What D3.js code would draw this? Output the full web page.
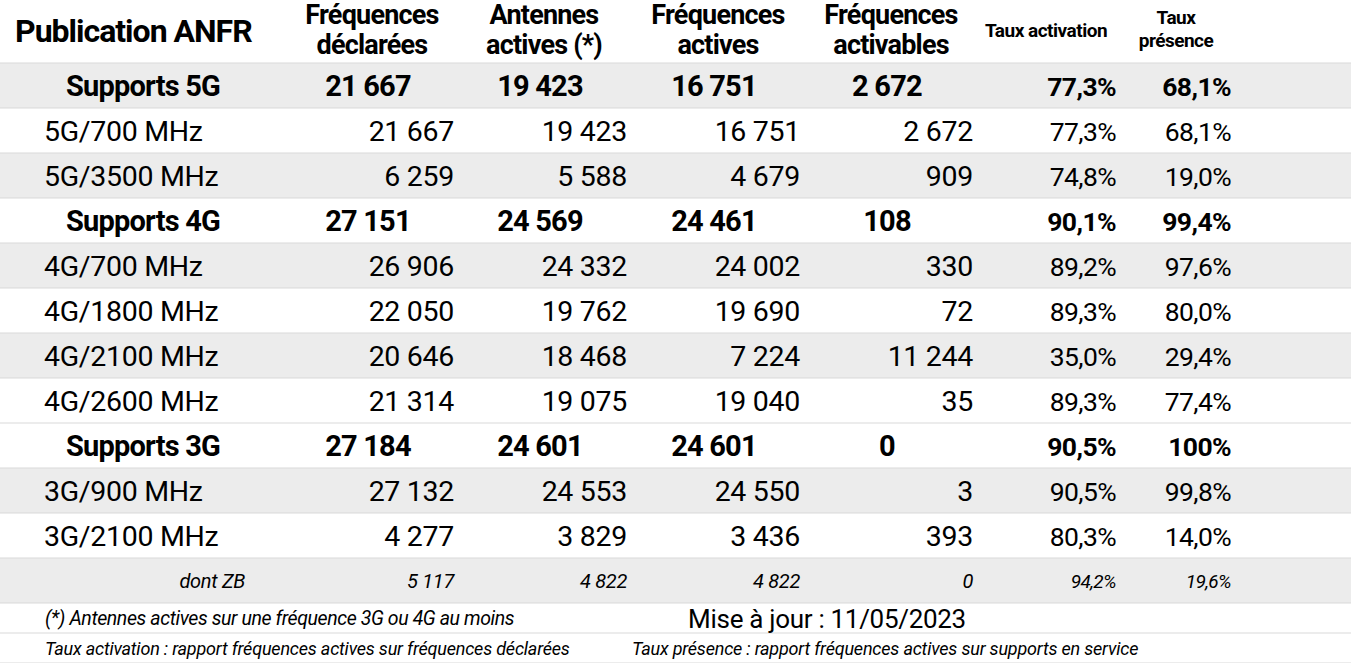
<!DOCTYPE html>
<html><head><meta charset="utf-8">
<script src="https://cdn.jsdelivr.net/npm/d3@7"></script>
<style>body{margin:0;background:#fff}text{font-family:Roboto,sans-serif}</style>
</head><body><div id="table"></div>
<script>
const rowLabels = ["Supports 5G","5G/700 MHz","5G/3500 MHz","Supports 4G","4G/700 MHz","4G/1800 MHz","4G/2100 MHz","4G/2600 MHz","Supports 3G","3G/900 MHz","3G/2100 MHz","dont ZB"]
const rowKind = ["bold","sub","sub","bold","sub","sub","sub","sub","bold","sub","sub","small"]
const rowShade = [1,0,1,0,1,0,1,0,0,1,0,1]
const declared = ["21 667","21 667","6 259","27 151","26 906","22 050","20 646","21 314","27 184","27 132","4 277","5 117"]
const antennas = ["19 423","19 423","5 588","24 569","24 332","19 762","18 468","19 075","24 601","24 553","3 829","4 822"]
const active = ["16 751","16 751","4 679","24 461","24 002","19 690","7 224","19 040","24 601","24 550","3 436","4 822"]
const activable = ["2 672","2 672","909","108","330","72","11 244","35","0","3","393","0"]
const activation = ["77,3%","77,3%","74,8%","90,1%","89,2%","89,3%","35,0%","89,3%","90,5%","90,5%","80,3%","94,2%"]
const presence = ["68,1%","68,1%","19,0%","99,4%","97,6%","80,0%","29,4%","77,4%","100%","99,8%","14,0%","19,6%"]
const headers = [["Fréquences","déclarées"],["Antennes","actives (*)"],["Fréquences","actives"],["Fréquences","activables"]]
const footNote = "(*) Antennes actives sur une fréquence 3G ou 4G au moins"
const updateNote = "Mise à jour : 11/05/2023"
const defActivation = "Taux activation : rapport fréquences actives sur fréquences déclarées"
const defPresence = "Taux présence : rapport fréquences actives sur supports en service"

const width = 1351, height = 663
const svg = d3.select("#table").append("svg").attr("width", width).attr("height", height)

const y = d3.scaleBand().domain(d3.range(rowLabels.length)).range([63, 603])
const numRight = [454, 627, 800, 973]
const numCenter = [368, 540, 714, 887]
const pctRight = [1116, 1231]
const cols = [declared, antennas, active, activable]
const pcts = [activation, presence]

// backgrounds
svg.selectAll("rect.row").data(rowLabels).join("rect")
  .attr("x", 0).attr("width", width)
  .attr("y", (d, i) => y(i)).attr("height", y.bandwidth())
  .attr("fill", (d, i) => rowShade[i] ? "#ececec" : "#fff")
const lines = [63].concat(d3.range(rowLabels.length).map(i => y(i) + y.bandwidth()), [633, 663])
svg.selectAll("line.sep").data(lines).join("line")
  .attr("x1", 0).attr("x2", width).attr("y1", d => d).attr("y2", d => d)
  .attr("stroke", "#d9d9d9").attr("stroke-width", 1)

// header
svg.append("text").attr("x", 15).attr("y", 42).attr("font-size", 32).attr("font-weight", 700)
  .attr("letter-spacing", -1).text("Publication ANFR")
headers.forEach((h, j) => {
  h.forEach((t, k) => svg.append("text").attr("x", numCenter[j] + 4).attr("y", 24 + k * 30)
    .attr("text-anchor", "middle").attr("font-size", 27).attr("font-weight", 700)
    .attr("letter-spacing", -0.8).text(t))
})
svg.append("text").attr("x", 1046).attr("y", 37).attr("text-anchor", "middle")
  .attr("font-size", 19).attr("font-weight", 700).attr("letter-spacing", -0.5).text("Taux activation")
;["Taux", "présence"].forEach((t, k) => svg.append("text").attr("x", 1176).attr("y", 24 + k * 23)
  .attr("text-anchor", "middle").attr("font-size", 19).attr("font-weight", 700).attr("letter-spacing", -0.5).text(t))

// rows
const rows = svg.selectAll("g.r").data(rowLabels).join("g")
  .attr("transform", (d, i) => `translate(0,${y(i) + y.bandwidth() / 2})`)
rows.each(function(label, i) {
  const g = d3.select(this), kind = rowKind[i]
  const fs = kind == "small" ? 20 : (kind == "bold" ? 29 : 28.5)
  const fw = kind == "bold" ? 700 : 400
  const dy = kind == "small" ? 7 : 10
  const style = kind == "small" ? "italic" : "normal"
  const ls = kind == "bold" ? -0.8 : -0.3
  const lab = g.append("text").attr("y", dy).attr("font-size", fs).attr("font-weight", fw)
    .attr("font-style", style).attr("letter-spacing", ls).text(label)
  if (kind == "bold") lab.attr("x", 143).attr("text-anchor", "middle")
  else if (kind == "sub") lab.attr("x", 44)
  else lab.attr("x", 245).attr("text-anchor", "end")
  cols.forEach((c, j) => {
    g.append("text").attr("y", dy).attr("font-size", fs).attr("font-weight", fw).attr("font-style", style)
      .attr("letter-spacing", ls)
      .attr("x", kind == "bold" ? numCenter[j] : numRight[j])
      .attr("text-anchor", kind == "bold" ? "middle" : "end").text(c[i])
  })
  pcts.forEach((c, j) => {
    g.append("text").attr("y", dy).attr("font-size", kind == "small" ? 19 : 26.5).attr("font-weight", fw)
      .attr("font-style", style).attr("letter-spacing", -0.6)
      .attr("x", pctRight[j]).attr("text-anchor", "end").text(c[i])
  })
})

// footer
svg.append("text").attr("x", 45).attr("y", 625).attr("font-size", 19.5).attr("font-style", "italic")
  .attr("letter-spacing", -0.4).text(footNote)
svg.append("text").attr("x", 827).attr("y", 628).attr("text-anchor", "middle").attr("font-size", 26)
  .attr("letter-spacing", -0.3).text(updateNote)
svg.append("text").attr("x", 45).attr("y", 655).attr("font-size", 18).attr("font-style", "italic")
  .attr("letter-spacing", -0.2).text(defActivation)
svg.append("text").attr("x", 632).attr("y", 655).attr("font-size", 18).attr("font-style", "italic")
  .attr("letter-spacing", -0.2).text(defPresence)
</script></body></html>
